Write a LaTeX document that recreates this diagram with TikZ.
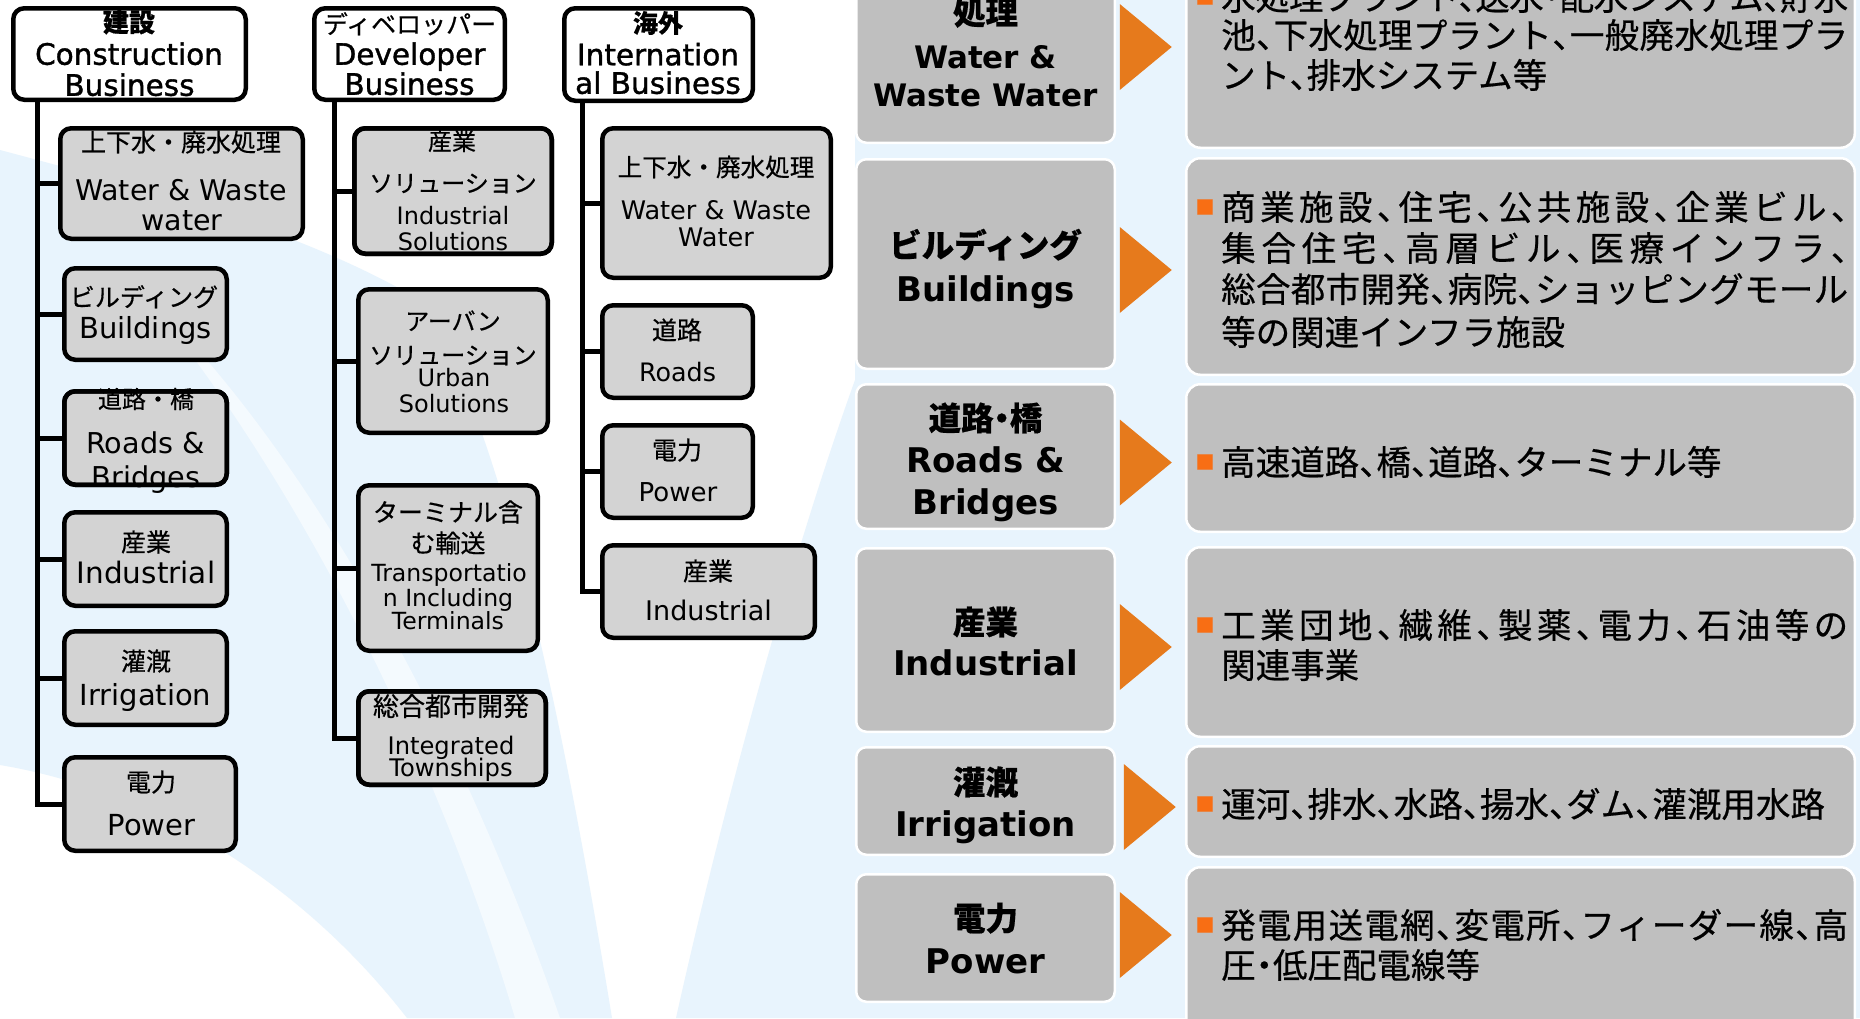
\documentclass[tikz,border=0pt]{standalone}
\usepackage{fontspec}
\newfontfamily\jpf{Noto Sans CJK JP}[FakeBold=0.5]
\newfontfamily\jpd{Noto Sans CJK JP}[RawFeature=+halt, FakeBold=0.5]
\newfontfamily\enf{DejaVu Sans}
\newfontfamily\enh{DejaVu Sans}[FakeBold=1.2]
\usetikzlibrary{calc}
\definecolor{bgb}{HTML}{E8F4FD}
\definecolor{lgray}{HTML}{D3D3D3}
\definecolor{rgray}{HTML}{BFBFBF}
\definecolor{chevc}{HTML}{E67A1C}
\definecolor{bulc}{HTML}{F86E14}
\makeatletter
\def\sprd@end{}
\def\sprd#1{\sprd@first#1\sprd@end}
\def\sprd@first#1{#1\sprd@loop}
\def\sprd@loop#1{\ifx#1\sprd@end\else\hskip0pt plus 1fil minus 1.6pt\relax#1\expandafter\sprd@loop\fi}
\makeatother
\newcommand\jline[1]{\hbox to 627pt{\sprd{#1}}}
\tikzset{
  tbox/.style={draw=black, line width=4.5pt, rounded corners=11pt, fill=lgray, inner sep=0pt, outer sep=0pt},
  hbox/.style={tbox, fill=white},
  tline/.style={draw=black, line width=4.5pt, rounded corners=11pt},
  conn/.style={draw=black, line width=5pt},
  lbox/.style={draw=white, line width=2.5pt, rounded corners=10pt, fill=rgray, inner sep=0pt, outer sep=0pt},
  dbox/.style={lbox, rounded corners=14pt},
  chev/.style={fill=chevc},
  jt/.style={font=\jpf\fontsize{#1}{#1}\selectfont, inner sep=0pt, text height=0.88*#1pt, text depth=0.12*#1pt},
  jtb/.style={jt=#1, font=\jpf\bfseries\fontsize{#1}{#1}\selectfont},
  et/.style={font=\enf\fontsize{#1}{#1}\selectfont, inner sep=0pt, text height=0.729*#1pt, text depth=0pt},
  eth/.style={et=#1, font=\enh\fontsize{#1}{#1}\selectfont},
  jr/.style={font=\jpd\bfseries\fontsize{#1}{#1}\selectfont, inner sep=0pt, text height=0.88*#1pt, text depth=0.12*#1pt},
  er/.style={font=\enf\bfseries\fontsize{#1}{#1}\selectfont, inner sep=0pt, text height=0.729*#1pt, text depth=0pt},
  dt/.style={font=\jpd\fontsize{34.5}{34.5}\selectfont, inner sep=0pt, text height=30.36pt, text depth=4.14pt, anchor=west},
  bul/.style={font=\jpf\fontsize{19}{19}\selectfont, text=bulc, inner sep=0pt, text height=16.72pt, text depth=2.28pt},
}
\begin{document}
\begin{tikzpicture}[x=1pt,y=-1pt]
\useasboundingbox (0,0) rectangle (1860,1018);
\clip (0,0) rectangle (1860,1018);
% background petals
\fill[white] (0,0) rectangle (1860,1018);
\fill[bgb] (0,150) .. controls (150,190) and (300,230) .. (420,300)
  .. controls (500,420) and (560,700) .. (612,1018) -- (407,1018)
  .. controls (300,880) and (150,790) .. (0,765) -- cycle;
\fill[white, opacity=0.55] (140,290) .. controls (260,430) and (420,700) .. (515,1018) -- (560,1018) .. controls (450,700) and (290,430) .. (140,290) -- cycle;
\fill[bgb] (855,0) -- (1860,0) -- (1860,1018) -- (676,1018)
  .. controls (720,820) and (790,560) .. (855,380) -- cycle;

% ---------- Construction column ----------
\node[hbox, minimum width=232.5pt, minimum height=91.5pt] (hc) at (129.5,54) {};
\node[tbox, minimum width=242.5pt, minimum height=110.5pt] (c1) at (181.5,183.5) {};
\node[tbox, minimum width=162.5pt, minimum height=91.5pt] (c2) at (145.5,314) {};
\node[tbox, minimum width=162.5pt, minimum height=93.5pt] (c3) at (145.5,438) {};
\node[tbox, minimum width=162.5pt, minimum height=93.5pt] (c4) at (145.5,559) {};
\node[tbox, minimum width=162.5pt, minimum height=93.5pt] (c5) at (145.5,678) {};
\node[tbox, minimum width=171.5pt, minimum height=93.5pt] (c6) at (150,804) {};
\coordinate (tc) at ($(hc.south west)+(24,0)$);
\draw[conn] (tc) |- (c6.west);
\foreach \b in {c1,c2,c3,c4,c5} \draw[conn] (\b.west) -- (\b.west -| tc);

% ---------- Developer column ----------
\node[hbox, minimum width=190.5pt, minimum height=91.5pt] (hd) at (409.5,54) {};
\node[tbox, minimum width=197.5pt, minimum height=125.5pt] (d1) at (453,191) {};
\node[tbox, minimum width=189.5pt, minimum height=143.5pt] (d2) at (453,361) {};
\node[tbox, minimum width=179.5pt, minimum height=165.5pt] (d3) at (448,568) {};
\node[tbox, minimum width=187.5pt, minimum height=93.5pt] (d4) at (452,738) {};
\coordinate (td) at ($(hd.south west)+(20,0)$);
\draw[conn] (td) |- (d4.west);
\foreach \b in {d1,d2,d3} \draw[conn] (\b.west) -- (\b.west -| td);

% ---------- International column ----------
\node[hbox, minimum width=188.5pt, minimum height=92.5pt] (hi) at (658.5,54.5) {};
\node[tbox, minimum width=228.5pt, minimum height=149.5pt] (i1) at (716.5,203) {};
\node[tbox, minimum width=150.5pt, minimum height=92.5pt] (i2) at (677.5,351.5) {};
\node[tbox, minimum width=150.5pt, minimum height=92.5pt] (i3) at (677.5,471.5) {};
\node[tbox, minimum width=212.5pt, minimum height=92.5pt] (i4) at (708.5,591.5) {};
\coordinate (ti) at ($(hi.south west)+(18,0)$);
\draw[conn] (ti) |- (i4.west);
\foreach \b in {i1,i2,i3} \draw[conn] (\b.west) -- (\b.west -| ti);

% texts construction
\node[jtb=26] (hct1) at (129,22) {建設};
\node[eth=29.5] (hct2) at (129,54) {Construction};
\node[eth=29.5] (hct3) at (129.5,85) {Business};
\node[jt=25] (c1t1) at (181,142) {上下水・廃水処理};
\node[et=28.5] (c1t2) at (181,190) {Water \& Waste};
\node[et=28.5] (c1t3) at (182,220) {water};
\node[jt=25] (c2t1) at (144,297) {ビルディング};
\node[et=29] (c2t2) at (145.5,328) {Buildings};
\node[jt=24] (c3t1) at (146,399) {道路・橋};
\node[et=28.7] (c3t2) at (145.5,443) {Roads \&};
\node[et=28.7] (c3t3) at (146,477) {Bridges};
\node[jt=25] (c4t1) at (146,542) {産業};
\node[et=29.5] (c4t2) at (146,573) {Industrial};
\node[jt=25] (c5t1) at (146,661) {灌漑};
\node[et=29] (c5t2) at (145.5,695) {Irrigation};
\node[jt=25] (c6t1) at (151,782) {電力};
\node[et=29] (c6t2) at (151.5,825) {Power};

% texts developer
\node[jt=25] (hdt1) at (409.5,24) {ディベロッパー};
\node[eth=29.5] (hdt2) at (409.5,54) {Developer};
\node[eth=29.5] (hdt3) at (409.5,84) {Business};
\node[jt=24] (d1t1) at (452,141) {産業};
\node[jt=24] (d1t2) at (453,183) {ソリューション};
\node[et=24] (d1t3) at (453,216) {Industrial};
\node[et=24] (d1t4) at (453,242) {Solutions};
\node[jt=24] (d2t1) at (453,321) {アーバン};
\node[jt=24] (d2t2) at (453,355) {ソリューション};
\node[et=24] (d2t3) at (454,378) {Urban};
\node[et=24] (d2t4) at (454,404) {Solutions};
\node[jt=25] (d3t1) at (448,512) {ターミナル含};
\node[jt=25] (d3t2) at (448,543) {む輸送};
\node[et=23.6] (d3t3) at (449,572.5) {Transportatio};
\node[et=23.6] (d3t4) at (448,598) {n Including};
\node[et=23.6] (d3t5) at (448,621) {Terminals};
\node[jt=26] (d4t1) at (451,706) {総合都市開発};
\node[et=24.2] (d4t2) at (451,745.5) {Integrated};
\node[et=24.2] (d4t3) at (451,768) {Townships};

% texts international
\node[jtb=25] (hit1) at (658,23) {海外};
\node[eth=29.5] (hit2) at (658,54.5) {Internation};
\node[eth=29.5] (hit3) at (658,83) {al Business};
\node[jt=24.6] (i1t1) at (716,167) {上下水・廃水処理};
\node[et=25.6] (i1t2) at (716,210) {Water \& Waste};
\node[et=25.6] (i1t3) at (716,237.5) {Water};
\node[jt=25] (i2t1) at (677,330) {道路};
\node[et=25.4] (i2t2) at (677.5,372.5) {Roads};
\node[jt=25] (i3t1) at (677,450) {電力};
\node[et=26] (i3t2) at (678,492) {Power};
\node[jt=25] (i4t1) at (708,571) {産業};
\node[et=27] (i4t2) at (708.5,611) {Industrial};

% borders drawn over overflowing text
\draw[tline] (c3.south west) rectangle (c3.north east);
\draw[tline] (d1.south west) rectangle (d1.north east);
\draw[tline] (d4.south west) rectangle (d4.north east);

% ---------- Right panel ----------
\node[lbox, minimum width=258.5pt, minimum height=201.5pt] (r1) at (985.5,42) {};
\node[lbox, minimum width=258.5pt, minimum height=209.5pt] (r2) at (985.5,264) {};
\node[lbox, minimum width=258.5pt, minimum height=144.5pt] (r3) at (985.5,456.5) {};
\node[lbox, minimum width=258.5pt, minimum height=183.5pt] (r4) at (985.5,640) {};
\node[lbox, minimum width=258.5pt, minimum height=107.5pt] (r5) at (985.5,801) {};
\node[lbox, minimum width=258.5pt, minimum height=127.5pt] (r6) at (985.5,938) {};
\node[dbox, minimum width=668.5pt, minimum height=206.5pt] (s1) at (1520.5,44.5) {};
\node[dbox, minimum width=668.5pt, minimum height=216.5pt] (s2) at (1520.5,266.5) {};
\node[dbox, minimum width=668.5pt, minimum height=147.5pt] (s3) at (1520.5,458) {};
\node[dbox, minimum width=668.5pt, minimum height=189.5pt] (s4) at (1520.5,642) {};
\node[dbox, minimum width=668.5pt, minimum height=110.5pt] (s5) at (1520.5,801.5) {};
\node[dbox, minimum width=668.5pt, minimum height=181.5pt] (s6) at (1520.5,958) {};

\fill[chev] ($(r1.east)+(5,-38)$) -- ++(52,43) -- ++(-52,43) -- cycle;
\fill[chev] ($(r2.east)+(5,-37)$) -- ++(52,43) -- ++(-52,43) -- cycle;
\fill[chev] ($(r3.east)+(5,-37)$) -- ++(52,43) -- ++(-52,43) -- cycle;
\fill[chev] ($(r4.east)+(5,-36)$) -- ++(52,43) -- ++(-52,43) -- cycle;
\fill[chev] ($(r5.east)+(9,-37)$) -- ++(52,43) -- ++(-52,43) -- cycle;
\fill[chev] ($(r6.east)+(5,-46)$) -- ++(52,43) -- ++(-52,43) -- cycle;

\node[jr=32.5] (r1t1) at (985.5,12) {処理};
\node[er=31] (r1t2) at (985.5,57) {Water \&};
\node[er=31] (r1t3) at (985.5,95) {Waste Water};
\node[jr=32.5] (r2t1) at (985.5,245) {ビルディング};
\node[er=34] (r2t2) at (985.5,289) {Buildings};
\node[jr=32.5] (r3t1) at (985.5,418) {道路・橋};
\node[er=34] (r3t2) at (985.5,460) {Roads \&};
\node[er=34] (r3t3) at (985.5,502) {Bridges};
\node[jr=32.5] (r4t1) at (985.5,622) {産業};
\node[er=34] (r4t2) at (985.5,663) {Industrial};
\node[jr=32.5] (r5t1) at (985.5,782) {灌漑};
\node[er=34] (r5t2) at (985.5,824) {Irrigation};
\node[jr=32.5] (r6t1) at (985.5,918) {電力};
\node[er=34] (r6t2) at (985.5,961) {Power};

\node[bul] (s1m) at (1205,-3) {■};
\node[dt] (s1a) at (1221,-3) {\jline{水処理プラント、送水・配水システム、貯水}};
\node[dt] (s1b) at (1221,35) {\jline{池、下水処理プラント、一般廃水処理プラ}};
\node[dt] (s1c) at (1221,75) {ント、排水システム等};
\node[bul] (s2m) at (1205,207) {■};
\node[dt] (s2a) at (1221,207) {\jline{商業施設、住宅、公共施設、企業ビル、}};
\node[dt] (s2b) at (1221,248) {\jline{集合住宅、高層ビル、医療インフラ、}};
\node[dt] (s2c) at (1221,289) {\jline{総合都市開発、病院、ショッピングモール}};
\node[dt] (s2d) at (1221,332) {等の関連インフラ施設};
\node[bul] (s3m) at (1205,462) {■};
\node[dt] (s3a) at (1221,462) {高速道路、橋、道路、ターミナル等};
\node[bul] (s4m) at (1205,625) {■};
\node[dt] (s4a) at (1221,625) {\jline{工業団地、繊維、製薬、電力、石油等の}};
\node[dt] (s4b) at (1221,665) {関連事業};
\node[bul] (s5m) at (1205,804) {■};
\node[dt] (s5a) at (1221,804) {運河、排水、水路、揚水、ダム、灌漑用水路};
\node[bul] (s6m) at (1205,925) {■};
\node[dt] (s6a) at (1221,925) {\jline{発電用送電網、変電所、フィーダー線、高}};
\node[dt] (s6b) at (1221,965) {圧・低圧配電線等};
\end{tikzpicture}
\end{document}
